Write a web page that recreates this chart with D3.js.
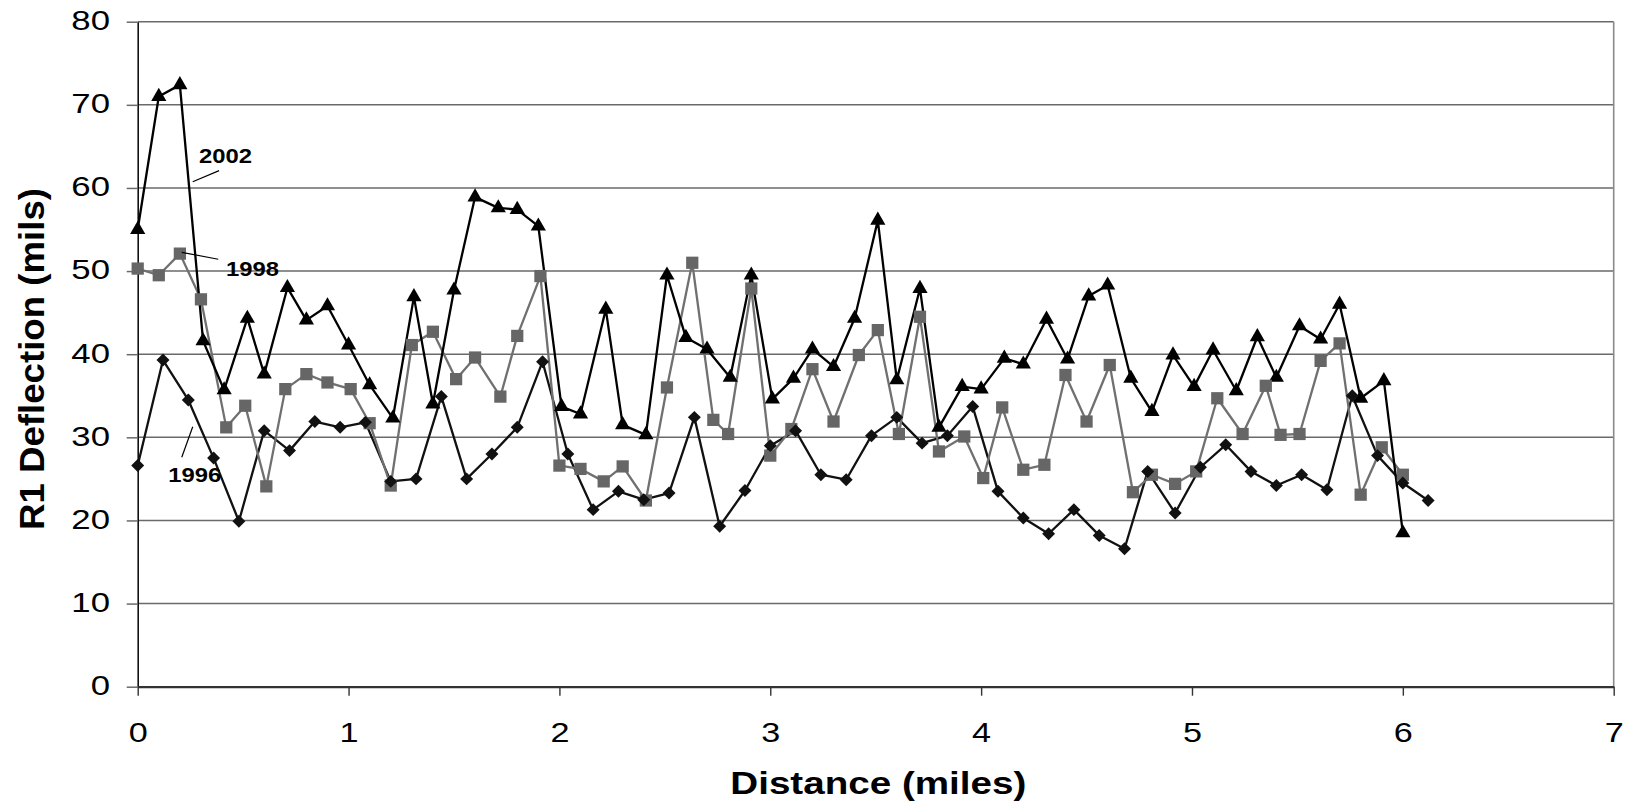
<!DOCTYPE html>
<html>
<head>
<meta charset="utf-8">
<script src="https://cdn.jsdelivr.net/npm/d3@7"></script>
<style>
  html, body { margin: 0; padding: 0; background: #fff; }
  svg { display: block; font-family: "Liberation Sans", Arial, sans-serif; }
</style>
</head>
<body>
<svg id="chart" width="1631" height="812"></svg>
<script>
// ---- Data ----
const dist2002 = [0, 0.10, 0.20, 0.31, 0.41, 0.52, 0.60, 0.71, 0.80, 0.90, 1.00, 1.10, 1.21,
  1.31, 1.40, 1.50, 1.60, 1.71, 1.80, 1.90, 2.01, 2.10, 2.22, 2.30, 2.41, 2.51, 2.60, 2.70, 2.81, 2.91, 3.01, 3.11, 3.20,
  3.30, 3.40, 3.51, 3.60, 3.71, 3.80, 3.91, 4.00, 4.11, 4.20, 4.31, 4.41, 4.51, 4.60, 4.71, 4.81, 4.91, 5.01, 5.10,
  5.21, 5.31, 5.40, 5.51, 5.61, 5.70, 5.80, 5.91, 6.00];
const val2002 = [55.0, 71.0, 72.4, 41.6, 35.7, 44.3, 37.6, 48.0, 44.1, 45.8, 41.1, 36.3, 32.3,
  46.9, 34.0, 47.7, 58.9, 57.6, 57.4, 55.4, 33.7, 32.8, 45.4, 31.5, 30.3, 49.5, 42.0, 40.6, 37.2, 49.5, 34.6, 37.1, 40.6,
  38.5, 44.3, 56.1, 36.9, 47.9, 31.2, 36.1, 35.8, 39.5, 38.8, 44.2, 39.4, 47.0, 48.3, 37.1, 33.1, 39.9, 36.1, 40.5,
  35.6, 42.1, 37.2, 43.4, 41.8, 46.0, 34.7, 36.8, 18.5];

const dist1998 = [0, 0.10, 0.20, 0.30, 0.42, 0.51, 0.61, 0.70, 0.80, 0.90, 1.01, 1.10, 1.20,
  1.30, 1.40, 1.51, 1.60, 1.72, 1.80, 1.91, 2.00, 2.10, 2.21, 2.30, 2.41, 2.51, 2.63, 2.73, 2.80, 2.91, 3.00, 3.10, 3.20,
  3.30, 3.42, 3.51, 3.61, 3.71, 3.80, 3.92, 4.01, 4.10, 4.20, 4.30, 4.40, 4.50, 4.61, 4.72, 4.81, 4.92, 5.02, 5.12,
  5.24, 5.35, 5.42, 5.51, 5.61, 5.70, 5.80, 5.90, 6.00];
const val1998 = [50.3, 49.5, 52.1, 46.6, 31.2, 33.8, 24.1, 35.8, 37.6, 36.6, 35.8, 31.7, 24.2,
  41.1, 42.7, 37.0, 39.6, 34.9, 42.2, 49.4, 26.6, 26.2, 24.7, 26.5, 22.4, 36.0, 51.0, 32.1, 30.4, 47.9, 27.8, 31.0, 38.2,
  31.9, 39.9, 42.9, 30.4, 44.5, 28.3, 30.1, 25.1, 33.6, 26.1, 26.7, 37.5, 31.9, 38.7, 23.4, 25.5, 24.4, 25.9, 34.7,
  30.4, 36.2, 30.3, 30.4, 39.2, 41.3, 23.1, 28.8, 25.5];

const dist1996 = [0, 0.12, 0.24, 0.36, 0.48, 0.60, 0.72, 0.84, 0.96, 1.08, 1.20, 1.32, 1.44, 1.56, 1.68, 1.80,
  1.92, 2.04, 2.16, 2.28, 2.40, 2.52, 2.64, 2.76, 2.88, 3.00, 3.12, 3.24, 3.36, 3.48, 3.60, 3.72, 3.84, 3.96,
  4.08, 4.20, 4.32, 4.44, 4.56, 4.68, 4.79, 4.92, 5.04, 5.16, 5.28, 5.40, 5.52, 5.64, 5.76, 5.88, 6.00, 6.12];
const val1996 = [26.6, 39.3, 34.5, 27.5, 19.9, 30.8, 28.4, 31.9, 31.2, 31.8, 24.7, 25.0, 34.9, 25.0, 28.0, 31.2,
  39.1, 28.0, 21.3, 23.5, 22.5, 23.3, 32.4, 19.3, 23.6, 29.0, 30.8, 25.5, 24.9, 30.2, 32.4, 29.3, 30.2, 33.7,
  23.5, 20.3, 18.4, 21.3, 18.2, 16.6, 25.9, 20.9, 26.4, 29.1, 25.9, 24.2, 25.5, 23.7, 35.0, 27.8, 24.5, 22.4];

const xTicks = [0, 1, 2, 3, 4, 5, 6, 7];
const yTicks = [0, 10, 20, 30, 40, 50, 60, 70, 80];
const xTitle = "Distance (miles)";
const yTitle = "R1 Deflection (mils)";

// Series labels with leader lines (in data units)
const labelNames = ["2002", "1998", "1996"];
const labelPos = [[0.291, 62.97], [0.419, 49.41], [0.145, 24.66]];
const leaderFrom = [[0.386, 62.08], [0.382, 51.42], [0.261, 31.28]];
const leaderTo = [[0.261, 60.75], [0.209, 52.26], [0.209, 27.6]];

// ---- Layout ----
const svg = d3.select("#chart");
const plotLeft = 137.7, plotTop = 21.7, plotRight = 1613.7, plotBottom = 686.7;

const x = d3.scaleLinear().domain([0, 7]).range([plotLeft, plotRight]);
const y = d3.scaleLinear().domain([0, 80]).range([plotBottom, plotTop]);

// Gridlines
svg.append("g").selectAll("line").data(yTicks.filter(d => d > 0)).join("line")
  .attr("x1", plotLeft).attr("x2", plotRight)
  .attr("y1", d => y(d)).attr("y2", d => y(d))
  .attr("stroke", "#6a6a6a").attr("stroke-width", 1.5);

// Right border
svg.append("line").attr("x1", plotRight).attr("x2", plotRight).attr("y1", plotTop).attr("y2", plotBottom)
  .attr("stroke", "#8a8a8a").attr("stroke-width", 1.6);

// Y axis
const yAxis = svg.append("g").attr("transform", `translate(${plotLeft},0)`)
  .call(d3.axisLeft(y).tickValues(yTicks).tickSize(11).tickSizeOuter(0).tickPadding(0));
yAxis.select(".domain").attr("stroke", "#111").attr("stroke-width", 1.6);
yAxis.selectAll(".tick line").attr("stroke", "#6a6a6a").attr("stroke-width", 1.5);
yAxis.selectAll(".tick text")
  .attr("x", 0).attr("y", 7.8).attr("dy", 0)
  .attr("text-anchor", "end")
  .attr("transform", "translate(-27.7,0) scale(1.22,1)")
  .attr("font-size", 28.5).attr("fill", "#000")
  .attr("font-family", "'Liberation Sans', Arial, sans-serif");

// X axis
const xAxis = svg.append("g").attr("transform", `translate(0,${plotBottom})`)
  .call(d3.axisBottom(x).tickValues(xTicks).tickFormat(d3.format("d")).tickSize(9).tickSizeOuter(0));
xAxis.select(".domain").attr("stroke", "#333").attr("stroke-width", 2.2);
xAxis.selectAll(".tick line").attr("stroke", "#333").attr("stroke-width", 1.4);
xAxis.selectAll(".tick text")
  .attr("y", 55).attr("dy", 0)
  .attr("transform", "scale(1.2,1)")
  .attr("font-size", 28.5).attr("fill", "#000")
  .attr("font-family", "'Liberation Sans', Arial, sans-serif");

// Axis titles
svg.append("text")
  .attr("x", 878.3).attr("y", 793.5)
  .attr("text-anchor", "middle")
  .attr("font-size", 31.5).attr("font-weight", "bold")
  .attr("textLength", 296).attr("lengthAdjust", "spacingAndGlyphs")
  .text(xTitle);

svg.append("text")
  .attr("transform", "translate(44.3,359) rotate(-90)")
  .attr("text-anchor", "middle")
  .attr("font-size", 35.5).attr("font-weight", "bold")
  .attr("textLength", 342).attr("lengthAdjust", "spacingAndGlyphs")
  .text(yTitle);

// Series
const series = [
  { name: "1996", xs: dist1996, ys: val1996, line: "#111", fill: "#111", shape: "diamond" },
  { name: "1998", xs: dist1998, ys: val1998, line: "#707070", fill: "#666", shape: "square" },
  { name: "2002", xs: dist2002, ys: val2002, line: "#000", fill: "#000", shape: "triangle" }
];

const lineGen = d3.line().x(d => x(d[0])).y(d => y(d[1]));

const linesG = svg.append("g");
series.forEach(s => {
  const pts = s.xs.map((d, i) => [d, s.ys[i]]);
  linesG.append("path").datum(pts)
    .attr("d", lineGen)
    .attr("fill", "none")
    .attr("stroke", s.line)
    .attr("stroke-width", 2.3)
    .attr("stroke-linejoin", "round");
});

const symTri = d3.symbol().type(d3.symbolTriangle).size(100)();
const symSq = d3.symbol().type(d3.symbolSquare).size(150)();
const symDia = d3.symbol().type(d3.symbolSquare).size(84)();

const markOrder = [series[2], series[1], series[0]];
markOrder.forEach(s => {
  const pts = s.xs.map((d, i) => [d, s.ys[i]]);
  const path = s.shape === "triangle" ? symTri : s.shape === "square" ? symSq : symDia;
  const rot = s.shape === "diamond" ? " rotate(45)" : "";
  svg.append("g").selectAll("path").data(pts).join("path")
    .attr("d", path)
    .attr("transform", d => `translate(${x(d[0])},${y(d[1])})${rot}`)
    .attr("fill", s.fill);
});

// Series labels + leader lines
labelNames.forEach((name, i) => {
  svg.append("line")
    .attr("x1", x(leaderFrom[i][0])).attr("y1", y(leaderFrom[i][1]))
    .attr("x2", x(leaderTo[i][0])).attr("y2", y(leaderTo[i][1]))
    .attr("stroke", "#000").attr("stroke-width", 1.2);
  svg.append("text")
    .attr("x", x(labelPos[i][0])).attr("y", y(labelPos[i][1]))
    .attr("font-size", 21).attr("font-weight", "bold")
    .attr("textLength", 53).attr("lengthAdjust", "spacingAndGlyphs")
    .text(name);
});
</script>
</body>
</html>
